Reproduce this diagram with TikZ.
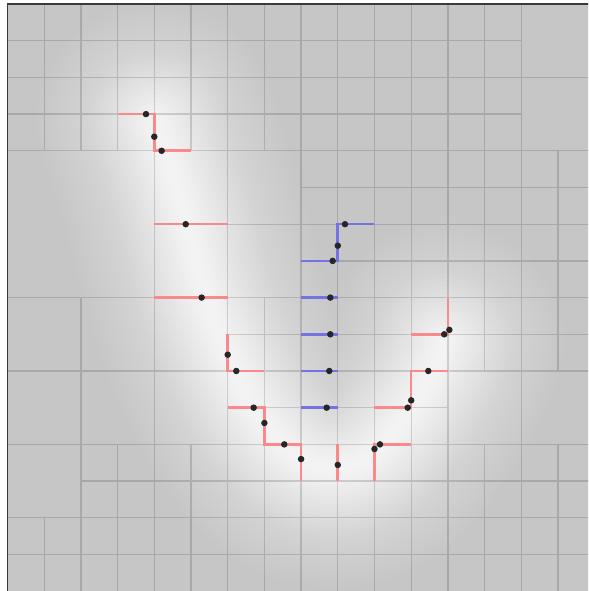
\documentclass[tikz,border=0pt]{standalone}
\definecolor{bgray}{HTML}{C6C6C6}
\definecolor{framec}{HTML}{3A3A3A}
\definecolor{redc}{RGB}{250,138,138}
\definecolor{bluec}{RGB}{115,115,228}
\tikzset{
  gridline/.style={draw=black, draw opacity=0.15, line width=1.3pt},
  redseg/.style={draw=redc, line width=2.6pt},
  blueseg/.style={draw=bluec, line width=2.6pt},
  dotpt/.style={circle, fill=black!85, inner sep=0pt, minimum size=6.5pt},
  glowline/.style={draw=white, line cap=round, line join=round},
}
\begin{document}
\begin{tikzpicture}[x=36.7pt,y=-36.7pt]
\useasboundingbox (-0.2044,-0.109) rectangle (15.818,15.995);
\clip (-0.2044,-0.109) rectangle (15.818,15.995);
\fill[white] (-0.2044,-0.109) rectangle (15.818,15.995);
\fill[bgray] (0,0) rectangle (16,16);
% glow
\def\glowpath{plot[smooth, tension=0.6] coordinates {(4.05,3.2) (4.4,4.3) (4.9,6) (5.4,8) (6.2,10) (7,11.4) (8,12.4) (9,12.65) (10,12.25) (10.95,11.1) (11.6,10) (11.9,9.2)}}
\foreach \w in {400,392,...,8}{
  \pgfmathsetmacro\op{0.16*exp(-\w/110)}
  \draw[glowline, draw opacity=\op, line width=\w pt] \glowpath;
}
% quadtree cells, one path
\draw[gridline]
  \foreach \i in {0,...,13}{\foreach \j in {0,...,3}{(\i,\j) rectangle +(1,1)}}
  \foreach \x/\y in {14/0,14/2,4/4,6/4,4/6,6/6,0/8,2/8,0/10,2/10,4/8,4/10,0/12,12/10,14/10}{(\x,\y) rectangle +(2,2)}
  (0,4) rectangle +(4,4)
  \foreach \i in {8,...,15}{\foreach \j in {4,...,7}{(\i,\j) rectangle +(1,1)}}
  \foreach \i in {6,7}{\foreach \j in {8,...,11}{(\i,\j) rectangle +(1,1)}}
  \foreach \i in {8,...,11}{\foreach \j in {8,...,11}{(\i,\j) rectangle +(1,1)}}
  \foreach \i in {12,...,15}{\foreach \j in {8,9}{(\i,\j) rectangle +(1,1)}}
  \foreach \i in {2,3}{\foreach \j in {12,13}{(\i,\j) rectangle +(1,1)}}
  \foreach \i in {4,...,15}{\foreach \j in {12,...,15}{(\i,\j) rectangle +(1,1)}}
  \foreach \i in {0,...,3}{\foreach \j in {14,15}{(\i,\j) rectangle +(1,1)}};
% frame
\draw[framec, line width=1.8pt] (0,16) -- (0,0) -- (16,0);
% red edges
\draw[redseg] (3,3) -- (4,3) -- (4,4) -- (5,4);
\draw[redseg] (4,6) -- (6,6);
\draw[redseg] (4,8) -- (6,8);
\draw[redseg] (6,9) -- (6,10) -- (7,10);
\draw[redseg] (6,11) -- (7,11) -- (7,12) -- (8,12) -- (8,13);
\draw[redseg] (9,12) -- (9,13);
\draw[redseg] (10,13) -- (10,12) -- (11,12);
\draw[redseg] (10,11) -- (11,11) -- (11,10) -- (12,10);
\draw[redseg] (11,9) -- (12,9) -- (12,8);
% blue edges
\draw[blueseg] (8,7) -- (9,7) -- (9,6) -- (10,6);
\draw[blueseg] (8,8) -- (9,8);
\draw[blueseg] (8,9) -- (9,9);
\draw[blueseg] (8,10) -- (9,10);
\draw[blueseg] (8,11) -- (9,11);
% dots
\node[dotpt] (r1) at (3.774,3) {};
\node[dotpt] (r2) at (4,3.616) {};
\node[dotpt] (r3) at (4.2,4) {};
\node[dotpt] (r4) at (4.856,6) {};
\node[dotpt] (r5) at (5.29,8) {};
\node[dotpt] (r6) at (6,9.556) {};
\node[dotpt] (r7) at (6.234,10) {};
\node[dotpt] (r8) at (6.708,11) {};
\node[dotpt] (r9) at (7,11.417) {};
\node[dotpt] (r10) at (7.542,12) {};
\node[dotpt] (r11) at (8,12.4) {};
\node[dotpt] (r12) at (9,12.56) {};
\node[dotpt] (r13) at (10,12.125) {};
\node[dotpt] (r14) at (10.15,12) {};
\node[dotpt] (r15) at (10.905,11) {};
\node[dotpt] (r16) at (11,10.8) {};
\node[dotpt] (r17) at (11.466,10) {};
\node[dotpt] (r18) at (11.9,9) {};
\node[dotpt] (r19) at (12.04,8.88) {};
\node[dotpt] (b1) at (8.861,7) {};
\node[dotpt] (b2) at (9,6.586) {};
\node[dotpt] (b3) at (9.196,6) {};
\node[dotpt] (b4) at (8.796,8) {};
\node[dotpt] (b5) at (8.796,9) {};
\node[dotpt] (b6) at (8.768,10) {};
\node[dotpt] (b7) at (8.697,11) {};
\end{tikzpicture}
\end{document}
